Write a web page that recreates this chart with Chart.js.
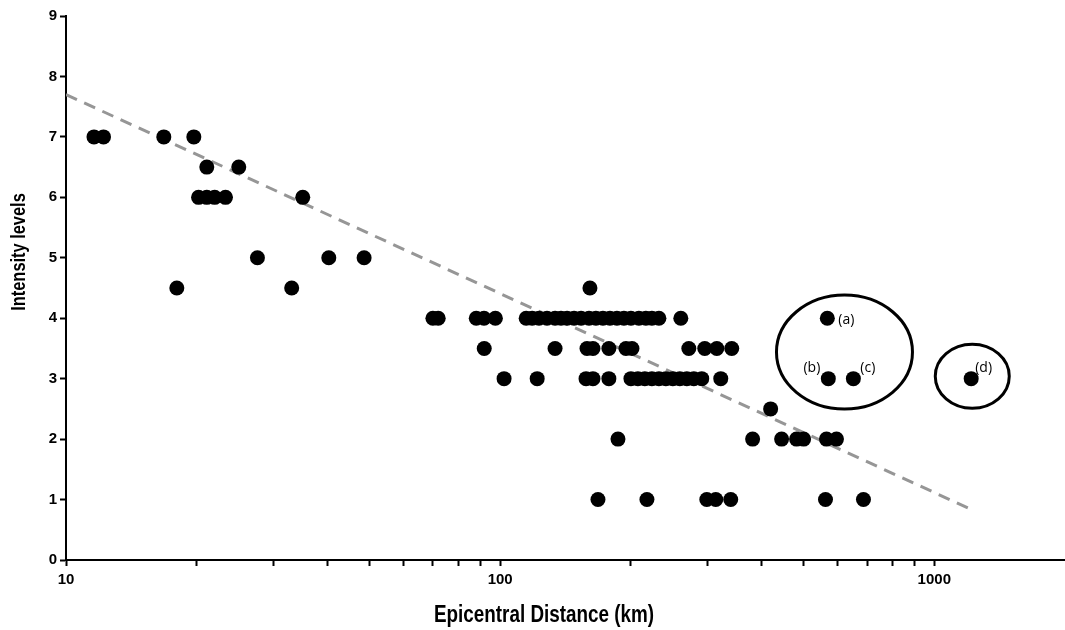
<!DOCTYPE html>
<html>
<head>
<meta charset="utf-8">
<script src="https://cdn.jsdelivr.net/npm/chart.js@4"></script>
<style>
  html, body { margin: 0; padding: 0; background: #ffffff; }
  #wrap { width: 1065px; height: 630px; position: relative; }
</style>
</head>
<body>
<div id="wrap"><canvas id="chart" width="1065" height="630"></canvas></div>
<script>
// epicentral distances (km) grouped by intensity level
var level7 = [11.6, 12.2, 16.8, 19.7];
var level6_5 = [21.1, 25.0];
var level6 = [20.2, 21.1, 22.0, 23.3, 35.1];
var level5 = [27.6, 40.3, 48.6];
var level4_5 = [18.0, 33.1, 161];
var level4 = [70.0, 72.0, 88.1, 91.8, 97.5, 114.8, 118.5, 122.9, 128.2, 133.8, 138.1, 142.6, 148.0,
  153.6, 160.2, 166.2, 172.5, 179.0, 185.8, 192.8, 200.1, 208.7, 216.6, 223.6, 232.1, 260.7, 567];
var level3_5 = [91.9, 133.8, 158.5, 163.6, 178.0, 194.9, 201.2, 272.0, 296.0, 315.5, 341.5];
var level3 = [102.1, 121.7, 157.7, 163.6, 178.0, 200.1, 207.6, 215.4, 223.6, 232.1, 240.8, 249.9,
  259.3, 269.1, 279.3, 291.3, 322.2, 570, 651, 1216];
var level2_5 = [419.8];
var level2 = [186.8, 381.5, 444.9, 481.7, 500.0, 564.5, 595.2];
var level1 = [168.0, 217.8, 299.2, 313.8, 339.7, 561.5, 686.8];

// dashed trend line end points (distance, intensity)
var trendX = [10, 1230];
var trendY = [7.7, 0.82];

// axis ticks
var xTickLabels = [10, 100, 1000];
var yTicks = [0, 1, 2, 3, 4, 5, 6, 7, 8, 9];

// circled groups and their labels
var groupLabels = ['(a)', '(b)', '(c)', '(d)'];
var groupX = [567, 570, 651, 1216];
var groupY = [4, 3, 3, 3];
var ellipseX = [621, 1223];
var ellipseY = [3.44, 3.04];

var levels = [
  [7, level7], [6.5, level6_5], [6, level6], [5, level5], [4.5, level4_5], [4, level4],
  [3.5, level3_5], [3, level3], [2.5, level2_5], [2, level2], [1, level1]
];
var points = [];
levels.forEach(function(l) {
  l[1].forEach(function(d) { points.push({x: d, y: l[0]}); });
});

var minorTicks = [];
xTickLabels.forEach(function(dec, i) {
  var last = i === xTickLabels.length - 1 ? 1 : 9;
  for (var m = 1; m <= last; m++) { minorTicks.push({value: dec * m}); }
});

// narrow bold text, like Arial Narrow
function narrowText(ctx, text, x, y, size, rot) {
  ctx.save();
  ctx.translate(x, y);
  if (rot) { ctx.rotate(rot); }
  ctx.scale(0.82, 1);
  ctx.font = 'bold ' + size + 'px "Liberation Sans", Arial, sans-serif';
  ctx.textAlign = 'center';
  ctx.textBaseline = 'middle';
  ctx.fillText(text, 0, 0);
  ctx.restore();
}

var annotPlugin = {
  id: 'annot',
  afterDatasetsDraw: function(chart) {
    var ctx = chart.ctx;
    var xs = chart.scales.x, ys = chart.scales.y;
    ctx.save();
    // ellipses round the outlying groups
    var radii = [[68, 57], [37, 32]];
    ctx.strokeStyle = '#000';
    ctx.lineWidth = 3;
    for (var i = 0; i < ellipseX.length; i++) {
      ctx.beginPath();
      ctx.ellipse(xs.getPixelForValue(ellipseX[i]), ys.getPixelForValue(ellipseY[i]),
        radii[i][0], radii[i][1], 0, 0, Math.PI * 2);
      ctx.stroke();
    }
    // labels next to points
    var offs = [[11, 2, 'left'], [-8, -11, 'right'], [7, -11, 'left'], [4, -11, 'left']];
    ctx.fillStyle = '#000';
    ctx.font = '14px "Open Sans", sans-serif';
    ctx.textBaseline = 'middle';
    for (var j = 0; j < groupLabels.length; j++) {
      ctx.textAlign = offs[j][2];
      ctx.fillText(groupLabels[j], xs.getPixelForValue(groupX[j]) + offs[j][0],
        ys.getPixelForValue(groupY[j]) + offs[j][1]);
    }
    // axis titles
    narrowText(ctx, 'Epicentral Distance (km)', 544, 616, 23, 0);
    narrowText(ctx, 'Intensity levels', 19, 252, 20, -Math.PI / 2);
    ctx.restore();
  }
};

new Chart(document.getElementById('chart'), {
  type: 'scatter',
  data: {
    datasets: [{
      data: points,
      backgroundColor: '#000000',
      borderWidth: 0,
      pointRadius: 7.5,
      pointHoverRadius: 7.5,
      order: 1
    }, {
      type: 'line',
      data: trendX.map(function(x, i) { return {x: x, y: trendY[i]}; }),
      borderColor: '#969696',
      borderWidth: 3,
      borderDash: [12, 8],
      pointRadius: 0,
      fill: false,
      order: 2
    }]
  },
  options: {
    responsive: false,
    animation: false,
    events: [],
    layout: { autoPadding: false, padding: { top: 16, right: 0, left: 0, bottom: 0 } },
    plugins: { legend: { display: false }, tooltip: { enabled: false } },
    scales: {
      x: {
        type: 'logarithmic',
        min: 10,
        max: 2000,
        afterBuildTicks: function(scale) { scale.ticks = minorTicks.slice(); },
        afterFit: function(scale) { scale.height = 70; },
        grid: { drawOnChartArea: false, drawTicks: true, tickLength: 6, tickColor: '#000', tickWidth: 2, color: '#000' },
        border: { display: true, color: '#000', width: 2 },
        ticks: {
          autoSkip: false,
          maxRotation: 0,
          padding: 5,
          color: '#000',
          font: { family: '"Liberation Sans", Arial, sans-serif', size: 15, weight: 'bold' },
          callback: function(v) { return xTickLabels.indexOf(v) >= 0 ? String(v) : ''; }
        }
      },
      y: {
        min: 0,
        max: 9,
        afterBuildTicks: function(scale) { scale.ticks = yTicks.map(function(v) { return {value: v}; }); },
        afterFit: function(scale) { scale.width = 66; },
        grid: { drawOnChartArea: false, drawTicks: true, tickLength: 6, tickColor: '#000', tickWidth: 2, color: '#000' },
        border: { display: true, color: '#000', width: 2 },
        ticks: {
          padding: 3,
          color: '#000',
          font: { family: '"Liberation Sans", Arial, sans-serif', size: 15, weight: 'bold' }
        }
      }
    }
  },
  plugins: [annotPlugin]
});
</script>
</body>
</html>
